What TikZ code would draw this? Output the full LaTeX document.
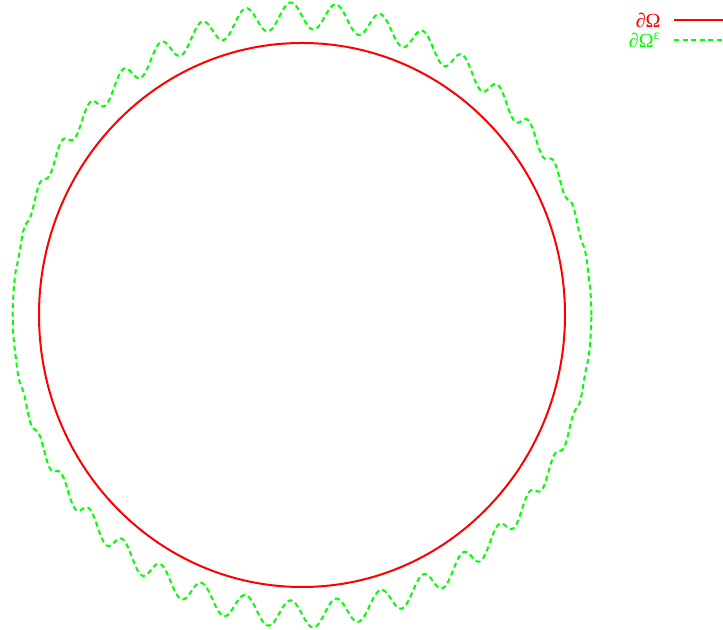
\documentclass[tikz,border=0pt]{standalone}
\usepackage{fontspec}
\setmainfont{Liberation Serif}
\usetikzlibrary{positioning}
\definecolor{bdred}{RGB}{255,0,0}
\definecolor{bdgreen}{RGB}{0,255,0}
\tikzset{
  boundary/.style={bdred, line width=1pt},
  perturbed/.style={bdgreen, line width=1pt, dash pattern=on 2.5pt off 1.75pt},
  legendtext/.style={anchor=east, inner sep=0pt, font=\fontsize{10}{12}\selectfont}
}

\begin{document}
\begin{tikzpicture}
    \useasboundingbox (0,0) rectangle (361.5pt,315pt);

    \begin{scope}[shift={(151pt,157.5pt)}, x=131.5pt, y=136pt]
        % Boundary of the domain
        \draw[boundary] (0,0) ellipse (1 and 1);

        % Oscillating boundary
        \draw[perturbed] plot[domain=0:360, samples=900, smooth]
            ({1.1*cos(\x)}, {(1.1+0.05*sin(40*\x))*sin(\x)}) -- cycle;
    \end{scope}

    % Legend
    \node[legendtext, bdred] (lblOmega) at (330.5pt,305pt) {∂Ω};
    \node[legendtext, bdgreen] (lblOmegaEps) at (330.5pt,295pt) {∂Ω\textsuperscript{ε}};
    \coordinate[right=6.5pt of lblOmega.east] (redA);
    \coordinate (redB) at (361.5pt,305pt);
    \coordinate (greenA) at (337pt,295pt);
    \coordinate (greenB) at (361.5pt,295pt);
    \draw[boundary] (redA) -- (redB);
    \draw[perturbed] (greenA) -- (greenB);

\end{tikzpicture}
\end{document}
